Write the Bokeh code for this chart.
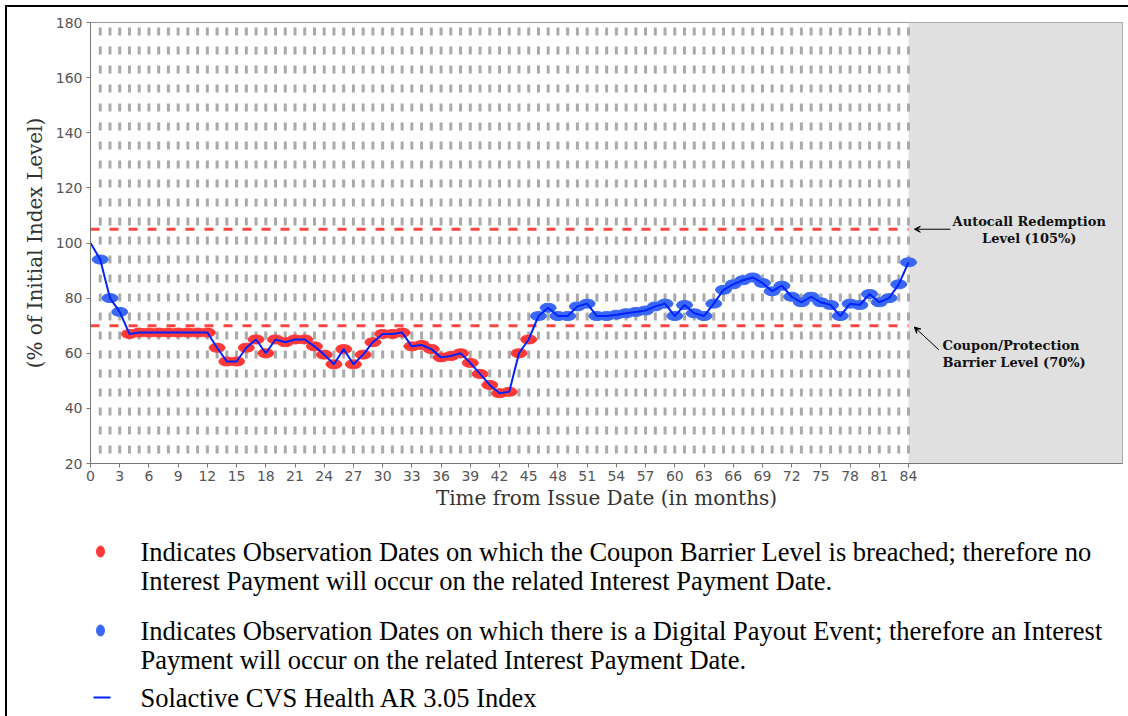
from bokeh.plotting import figure
from bokeh.models import Range1d, FixedTicker, BoxAnnotation, Label, Arrow, VeeHead
from bokeh.layouts import column
from bokeh.core.properties import value
from bokeh.embed import file_html
from bokeh.resources import INLINE

# ---------------- data ----------------
months = list(range(0, 85))
index_level = [
    100, 94, 80, 75, 67, 67.5, 67.5, 67.5, 67.5, 67.5,
    67.5, 67.5, 67.5, 62, 57, 57, 62, 65, 60, 65,
    64, 65, 65, 62.5, 59.5, 56, 61.5, 56, 59.5, 64,
    67, 67, 67.5, 62.5, 63, 61.5, 58.5, 59, 60, 56.5,
    52.5, 48.5, 45.5, 46, 60, 65, 73.5, 76.5, 73.5, 73.5,
    77, 78, 73.5, 73.5, 74, 74.5, 75, 75.5, 77, 78,
    73.5, 77.5, 74.5, 73.5, 78, 83, 85, 86.5, 87.5, 85.5,
    82.5, 84.5, 80.5, 78.5, 80.5, 78.5, 77.5, 73.5, 78, 77.5,
    81.5, 78.5, 80, 85, 93,
]
x_ticks = list(range(0, 85, 3))
y_ticks = list(range(20, 181, 20))
autocall_level = 105
barrier_level = 70
obs_end = 84

legend_lines = [
    "Indicates Observation Dates on which the Coupon Barrier Level is breached; therefore no",
    "Interest Payment will occur on the related Interest Payment Date.",
    "Indicates Observation Dates on which there is a Digital Payout Event; therefore an Interest",
    "Payment will occur on the related Interest Payment Date.",
    "Solactive CVS Health AR 3.05 Index",
]

RED = "#ff3838"
BLUE_M = "#3a68f5"
BLUE_L = "#0022ff"
GRID = "#aaaaaa"

OFF = 7            # page offset of the canvases (border)
W = 1128 - OFF
FL, FR = 90, 1122  # frame left/right on the page
FT, FB = 22, 463   # frame top/bottom on the page
H1 = 525 - OFF
H2 = 716 - 525

# ---------------- main chart ----------------
p = figure(width=W, height=H1, x_range=Range1d(0, 84 * (FR - FL) / 818.0),
           y_range=Range1d(y_ticks[0], y_ticks[-1]),
           output_backend="svg", toolbar_location=None,
           min_border_left=FL - OFF, min_border_top=FT - OFF, min_border_right=1128 - FR,
           min_border_bottom=H1 - (FB - OFF))
p.xgrid.visible = False
p.ygrid.visible = False
p.outline_line_color = "#999999"
p.background_fill_color = "white"
p.border_fill_color = "white"

p.add_layout(BoxAnnotation(left=obs_end, fill_color="#e0e0e0", fill_alpha=1, line_color=None, level="underlay"))

grid_x = months[1:]
p.segment(x0=grid_x, y0=[y_ticks[-1]] * len(grid_x), x1=grid_x, y1=[y_ticks[0]] * len(grid_x),
          line_color=GRID, line_width=3, line_dash="8 11", line_dash_offset=14)

for lvl in (autocall_level, barrier_level):
    p.line([0, obs_end], [lvl, lvl], line_color="#ff4444", line_width=3, line_dash="9 10")

obs_m = months[1:]
obs_v = index_level[1:]
colors = [RED if v < barrier_level else BLUE_M for v in obs_v]
p.ellipse(x=obs_m, y=obs_v, width=16, height=9, width_units="screen", height_units="screen",
          fill_color=colors, line_color=colors)
p.line(months, index_level, line_color=BLUE_L, line_width=2)

for ax in (p.xaxis[0], p.yaxis[0]):
    ax.axis_line_color = "#777777"
    ax.major_tick_line_color = "#777777"
    ax.minor_tick_line_color = None
    ax.major_tick_out = 4
    ax.major_tick_in = 0
    ax.major_label_text_font = "DejaVu Sans"
    ax.major_label_text_font_size = "14px"
    ax.major_label_text_color = "#555555"
    ax.axis_label_text_font = "DejaVu Serif"
    ax.axis_label_text_font_style = "normal"
    ax.axis_label_text_color = "#333333"
    ax.axis_label_text_font_size = "20px"

p.xaxis.ticker = FixedTicker(ticks=x_ticks)
p.yaxis.ticker = FixedTicker(ticks=y_ticks)
p.xaxis.axis_label = "Time from Issue Date (in months)"
p.yaxis.axis_label = "(% of Initial Index Level)"
p.xaxis.major_label_standoff = 3
p.xaxis.axis_label_standoff = 2
p.yaxis.major_label_standoff = 4
p.yaxis.axis_label_standoff = 6

lab_kw = dict(text_font="DejaVu Serif", text_font_style="bold", text_font_size="13px",
              text_color="#111111", text_baseline="middle")
p.add_layout(Label(x=96.4, y=107.8, text="Autocall Redemption", text_align="center", **lab_kw))
p.add_layout(Label(x=96.4, y=101.6, text="Level (105%)", text_align="center", **lab_kw))
p.add_layout(Label(x=87.5, y=62.7, text="Coupon/Protection", text_align="left", **lab_kw))
p.add_layout(Label(x=87.5, y=56.6, text="Barrier Level (70%)", text_align="left", **lab_kw))

p.add_layout(Arrow(end=VeeHead(size=6, line_color="black", line_width=1, fill_color="black"),
                   x_start=88.3, y_start=autocall_level, x_end=obs_end + 0.6, y_end=autocall_level,
                   line_color="black", line_width=1))
p.add_layout(Arrow(end=VeeHead(size=6, line_color="black", line_width=1, fill_color="black"),
                   x_start=87.1, y_start=61.3, x_end=obs_end + 0.6, y_end=barrier_level - 0.5,
                   line_color="black", line_width=1))

# ---------------- legend area ----------------
p2 = figure(width=W, height=H2, x_range=Range1d(FL, FR), y_range=Range1d(716, 525),
            output_backend="svg", toolbar_location=None,
            min_border_left=FL - OFF, min_border_right=1128 - FR, min_border_top=0, min_border_bottom=0,
            x_axis_location=None, y_axis_location=None)
p2.xgrid.visible = False
p2.ygrid.visible = False
p2.outline_line_color = None

ys = [551, 580, 630, 659, 697]
p2.text(x=[140] * 5, y=ys, text=legend_lines, text_font=value("Liberation Serif"),
        text_font_size="26.5px", text_baseline="middle", text_align="left", text_color="black")
p2.ellipse(x=[100, 100], y=[ys[0], ys[2]], width=8, height=11, width_units="screen", height_units="screen",
           fill_color=[RED, BLUE_M], line_color=[RED, BLUE_M])
p2.line([93, 110], [ys[4], ys[4]], line_color=BLUE_L, line_width=2)

layout = column(p, p2, spacing=0,
                styles={"border-left": "2px solid black", "border-top": "2px solid black",
                        "margin-left": "5px", "margin-top": "5px"})
open("out.html", "w").write(file_html(layout, INLINE))
